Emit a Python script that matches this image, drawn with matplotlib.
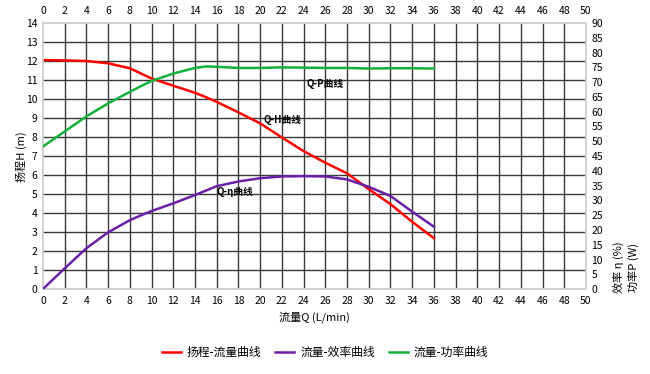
import matplotlib
matplotlib.use("Agg")
import matplotlib.pyplot as plt
from matplotlib.lines import Line2D

plt.rcParams['font.family'] = ['Noto Sans CJK SC', 'DejaVu Sans']

flow = [0, 2, 4, 6, 8, 9, 10, 12, 14, 15, 16, 18, 20, 22, 24, 26, 28, 30, 32, 34, 36]
head = [12.05, 12.03, 12.0, 11.88, 11.62, 11.35, 11.08, 10.7, 10.33, 10.1, 9.85, 9.3, 8.72, 7.98, 7.26, 6.65, 6.09, 5.26, 4.47, 3.54, 2.68]
eff = [0, 7.0, 13.8, 19.2, 23.3, 24.9, 26.4, 29.0, 31.8, 33.3, 34.8, 36.4, 37.5, 38.1, 38.2, 38.1, 37.1, 34.6, 31.5, 26.2, 21.1]
power = [48.2, 53.3, 58.4, 62.8, 66.7, 68.6, 70.4, 72.9, 74.8, 75.3, 75.2, 74.8, 74.8, 75.0, 74.9, 74.8, 74.8, 74.6, 74.7, 74.7, 74.6]

xticks = list(range(0, 52, 2))
h_ticks = list(range(0, 15))
r_ticks = list(range(0, 95, 5))

fig = plt.figure(figsize=(6.5, 3.74), dpi=100)
ax = fig.add_axes([0.066, 0.227, 0.8355, 0.7115])
ax2 = ax.twinx()

grid_c = '#3a3a3a'
for x in xticks[1:-1]:
    ax.axvline(x, color=grid_c, lw=1.0, zorder=1)
for y in h_ticks[1:-1]:
    ax.axhline(y, color=grid_c, lw=1.0, zorder=1)

ax.set_xlim(0, 50)
ax.set_ylim(0, 14)
ax2.set_ylim(0, 90)
ax.set_xticks(xticks)
ax.set_yticks(h_ticks)
ax2.set_yticks(r_ticks)

ax.plot(flow, head, color='#ff0000', lw=1.8, zorder=3)
ax2.plot(flow, eff, color='#6a1fa6', lw=1.8, zorder=3)
ax2.plot(flow, power, color='#13b03a', lw=1.8, zorder=3)

for a in (ax, ax2):
    for s in a.spines.values():
        s.set_color('#d0d0d0')
        s.set_linewidth(1.2)
ax.tick_params(axis='both', length=0, labelsize=7.5, pad=4)
ax.tick_params(axis='x', labeltop=True, pad=5)
ax2.tick_params(axis='y', length=0, labelsize=7.5, pad=4)

ax.text(24.3, 10.8, 'Q-P曲线', fontsize=7, fontweight='bold', va='center', zorder=4)
ax.text(20.3, 8.9, 'Q-H曲线', fontsize=7, fontweight='bold', va='center', zorder=4)
ax.text(16.0, 5.1, 'Q-η曲线', fontsize=7, fontweight='bold', va='center', zorder=4)

ax.set_xlabel('流量Q (L/min)', fontsize=8, labelpad=4)
fig.text(0.033, 0.58, '扬程H (m)', rotation=90, fontsize=8, ha='center', va='center')
fig.text(0.951, 0.285, '效率 η (%)', rotation=90, fontsize=8, ha='center', va='center')
fig.text(0.974, 0.285, '功率P (W)', rotation=90, fontsize=8, ha='center', va='center')

handles = [Line2D([], [], color='#ff0000', lw=1.8),
           Line2D([], [], color='#6a1fa6', lw=1.8),
           Line2D([], [], color='#13b03a', lw=1.8)]
labels = ['扬程-流量曲线', '流量-效率曲线', '流量-功率曲线']
fig.legend(handles, labels, loc='center', bbox_to_anchor=(0.5, 0.058), ncol=3,
           frameon=False, fontsize=8.5, handlelength=1.6, handletextpad=0.5, columnspacing=1.2)

fig.savefig('out.png', dpi=100)
